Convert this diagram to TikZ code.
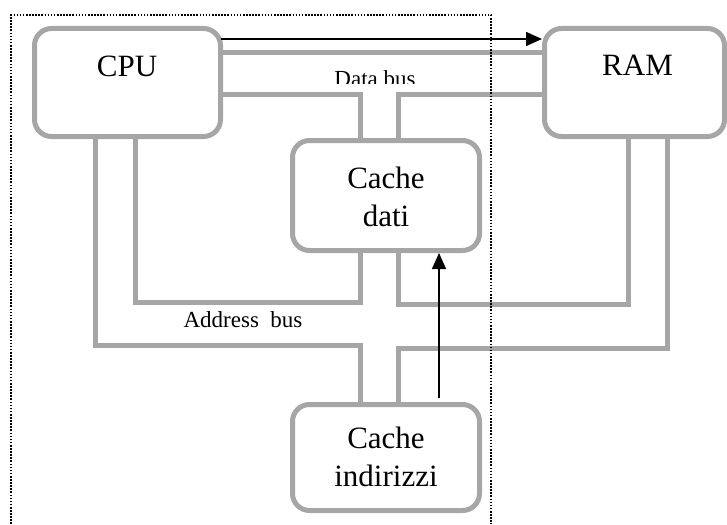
\documentclass[tikz,border=0pt]{standalone}
\usepackage{fontspec}
\setmainfont{Liberation Serif}
\usetikzlibrary{arrows.meta,calc}
\definecolor{busgray}{RGB}{166,166,166}
\tikzset{
  box/.style={draw=busgray, line width=5pt, rounded corners=17pt, fill=white, outer sep=0pt, inner sep=0pt},
  bus/.style={draw=busgray, line width=5pt, line cap=butt, line join=miter},
  arr/.style={draw=black, line width=1.5pt, -{Triangle[length=16pt,width=14pt]}},
  big/.style={font=\fontsize{31}{36}\selectfont, inner sep=0pt, anchor=base},
  small/.style={font=\fontsize{23}{27}\selectfont, inner sep=0pt, anchor=base},
  frame/.style={draw=black, line width=1.6pt, dash pattern=on 1.6pt off 1.5pt}
}
\begin{document}
\begin{tikzpicture}[x=1pt,y=-1pt]
\useasboundingbox (0,0) rectangle (727,524);
% boxes
\node[box, minimum width=186pt, minimum height=108pt] (cpu) at (127.5,82.5) {};
\node[box, minimum width=180pt, minimum height=108pt] (ram) at (634.5,82.5) {};
\node[box, minimum width=187pt, minimum height=110pt] (cd) at (386,195.5) {};
\node[box, minimum width=187pt, minimum height=106pt] (ci) at (386,457.5) {};
% helper coordinates
\coordinate (yArr) at (0,39);
\coordinate (yA) at (0,53);
\coordinate (yB) at (0,95);
\coordinate (yC) at (0,302);
\coordinate (yC2) at (0,304);
\coordinate (yD) at (0,345);
\coordinate (yD2) at (0,348);
\coordinate (xc1) at (95,0);
\coordinate (xc2) at (135,0);
\coordinate (xL) at (360,0);
\coordinate (xR) at (398,0);
\coordinate (xA) at (439,0);
\coordinate (xr1) at (628,0);
\coordinate (xr2) at (667,0);
% data bus
\draw[bus] (cpu.east |- yA) -- (ram.west |- yA);
\draw[bus] (cpu.east |- yB) -| (xL |- cd.north);
\draw[bus] (ram.west |- yB) -| (xR |- cd.north);
% address bus
\draw[bus] (xc2 |- cpu.south) |- (xL |- yC) -- (xL |- cd.south);
\draw[bus] (xc1 |- cpu.south) |- (xL |- yD) -- (xL |- ci.north);
\draw[bus] (xr1 |- ram.south) |- (xR |- yC2) -- (xR |- cd.south);
\draw[bus] (xr2 |- ram.south) |- (xR |- yD2) -- (xR |- ci.north);
% arrows
\draw[arr, shorten >=2.5pt] (cpu.east |- yArr) -- (ram.west |- yArr);
\draw[arr, shorten <=7pt, shorten >=2.5pt] (xA |- ci.north) -- (xA |- cd.south);
% texts
\node[big] (cput) at (127,76.5) {CPU};
\node[big] (ramt) at (637.5,76) {RAM};
\node[big] (cdt1) at (386,188) {Cache};
\node[big] (cdt2) at (386,226) {dati};
\node[big] (cit1) at (386,448) {Cache};
\node[big] (cit2) at (386,486) {indirizzi};
\node[small] (abus) at (243,327) {Address\ \ bus};
\begin{scope}
\clip (300,60) rectangle (460,84);
\node[small] (dbus) at (375,87) {Data bus};
\end{scope}
% dotted frame
\draw[frame] (11,524) -- (11,15) -- (491,15) -- (491,524);
\end{tikzpicture}
\end{document}
